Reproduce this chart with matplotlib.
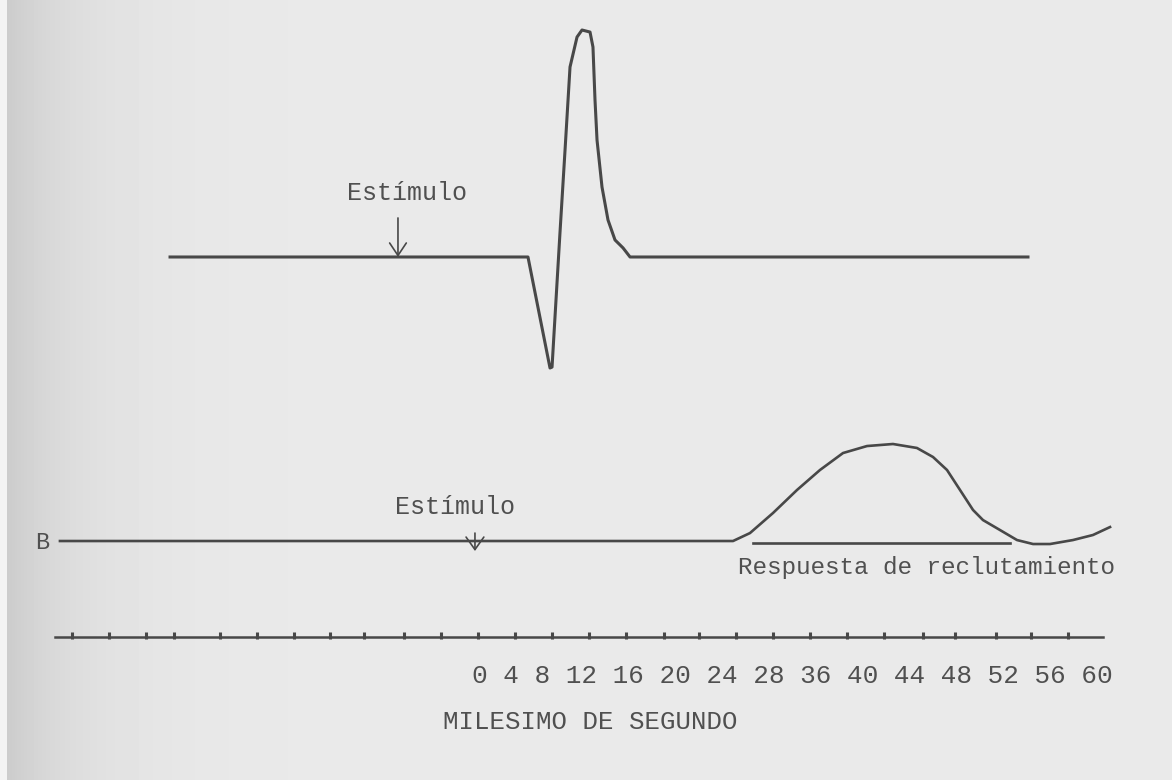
import numpy as np
import matplotlib
matplotlib.use("Agg")
import matplotlib.pyplot as plt

# ---------------- data ----------------
# Trace A: time (ms) and normalised amplitude (peak = 1)
a_time = [-33.4, 5.42, 7.81, 8.03, 8.89, 9.44, 9.98, 10.74, 11.28, 12.15,
          12.47, 12.69, 12.91, 13.45, 14.10, 14.86, 15.73, 16.49, 59.65]
a_amp = [0.0, 0.0, -0.489, -0.485, 0.106, 0.471, 0.837, 0.969, 1.0, 0.991,
         0.925, 0.692, 0.515, 0.308, 0.163, 0.075, 0.040, 0.0, 0.0]
a_stim_ms = -8.68

# Trace B: recruiting response
b_time = [-45.34, 27.66, 29.50, 32.00, 34.60, 37.09, 39.59, 42.19, 45.01,
          47.61, 49.35, 50.87, 52.28, 53.69, 54.77, 56.62, 58.46, 60.20,
          62.04, 64.53, 66.70, 68.55]
b_amp = [0.0, 0.0, 0.082, 0.289, 0.526, 0.732, 0.907, 0.979, 1.0,
         0.959, 0.866, 0.732, 0.526, 0.320, 0.216, 0.113, 0.010, -0.031,
         -0.031, 0.010, 0.062, 0.144]
b_stim_ms = -0.33
resp_span = [29.83, 57.70]

# Time scale ticks (ms) and the typed labels
tick_ms = [-44, -40, -36, -33, -28, -24, -20, -16, -12.4, -8, -4, 0, 4, 8,
           12, 16, 20.2, 24, 28, 32, 36, 40, 44, 48.3, 51.7, 56.2, 60, 64]
scale_span = [-45.88, 67.79]
tick_labels = ["0", "4", "8", "12", "16", "20", "24", "28", "36", "40",
               "44", "48", "52", "56", "60"]

# ---------------- style ----------------
W, H = 1172, 780
PX_PER_MS = 9.22
ZERO_PX = 478
XLIM = (-ZERO_PX / PX_PER_MS, (W - ZERO_PX) / PX_PER_MS)
LINE = "#484848"
TXT = "#505050"
FONT = "Liberation Mono"

fig = plt.figure(figsize=(W / 100, H / 100), dpi=100)

# paper background with darker left margin
bg = fig.add_axes([0, 0, 1, 1], zorder=-10)
xs = np.arange(W)
g = 234 - 30 * np.exp(-(xs - 8) / 80.0)
g[xs < 7] = 244
img = np.tile(g / 255.0, (H, 1))
bg.imshow(img, cmap="gray", vmin=0, vmax=1, aspect="auto",
          extent=(0, W, H, 0), interpolation="bilinear")
bg.set_axis_off()


def base_axes(rect, ylim):
    ax = fig.add_axes(rect)
    ax.set_xlim(*XLIM)
    ax.set_ylim(*ylim)
    ax.set_axis_off()
    ax.patch.set_alpha(0)
    return ax


# ---- Trace A ----
axA = base_axes([0, 1 - 400 / H, 1, 400 / H], (-0.63, 1.1322))
axA.plot(a_time, a_amp, color=LINE, lw=2.2, solid_joinstyle="round")
axA.annotate("", xy=(a_stim_ms, 0.0), xytext=(a_stim_ms, 0.172),
             arrowprops=dict(arrowstyle="->,head_length=0.45,head_width=0.3",
                             color=LINE, lw=1.2, mutation_scale=20,
                             shrinkA=0, shrinkB=0))
axA.text(-7.70, 0.282, "Estímulo", family=FONT, fontsize=18, color=TXT,
         ha="center", va="center")

# ---- Trace B ----
axB = base_axes([0, 180 / H, 1, 200 / H], (-0.608, 1.4536))
axB.plot(b_time, b_amp, color=LINE, lw=1.9, solid_joinstyle="round")
axB.plot(resp_span, [-0.02, -0.02], color=LINE, lw=1.9)
axB.annotate("", xy=(b_stim_ms, -0.103), xytext=(b_stim_ms, 0.082),
             arrowprops=dict(arrowstyle="->,head_length=0.45,head_width=0.32",
                             color=LINE, lw=1.2, mutation_scale=20,
                             shrinkA=0, shrinkB=0))
axB.text(-2.49, 0.35, "Estímulo", family=FONT, fontsize=18, color=TXT,
         ha="center", va="center")
axB.text(-47.29, -0.02, "B", family=FONT, fontsize=17, color=TXT,
         ha="center", va="center")
axB.text(28.2, -0.278, "Respuesta de reclutamiento", family=FONT,
         fontsize=17.5, color=TXT, ha="left", va="center")

# ---- Time scale ----
axS = base_axes([0, 0, 1, 180 / H], (-143, 37))
axS.plot(scale_span, [0, 0], color=LINE, lw=1.8)
axS.vlines(tick_ms, -2, 5, color=LINE, lw=2.2)
axS.text(-0.65, -39, " ".join(tick_labels), family=FONT, fontsize=18.7,
         color=TXT, ha="left", va="center")
axS.text(-3.8, -85, "MILESIMO DE SEGUNDO", family=FONT, fontsize=18.5,
         color=TXT, ha="left", va="center")

fig.savefig("out.png", dpi=100)
